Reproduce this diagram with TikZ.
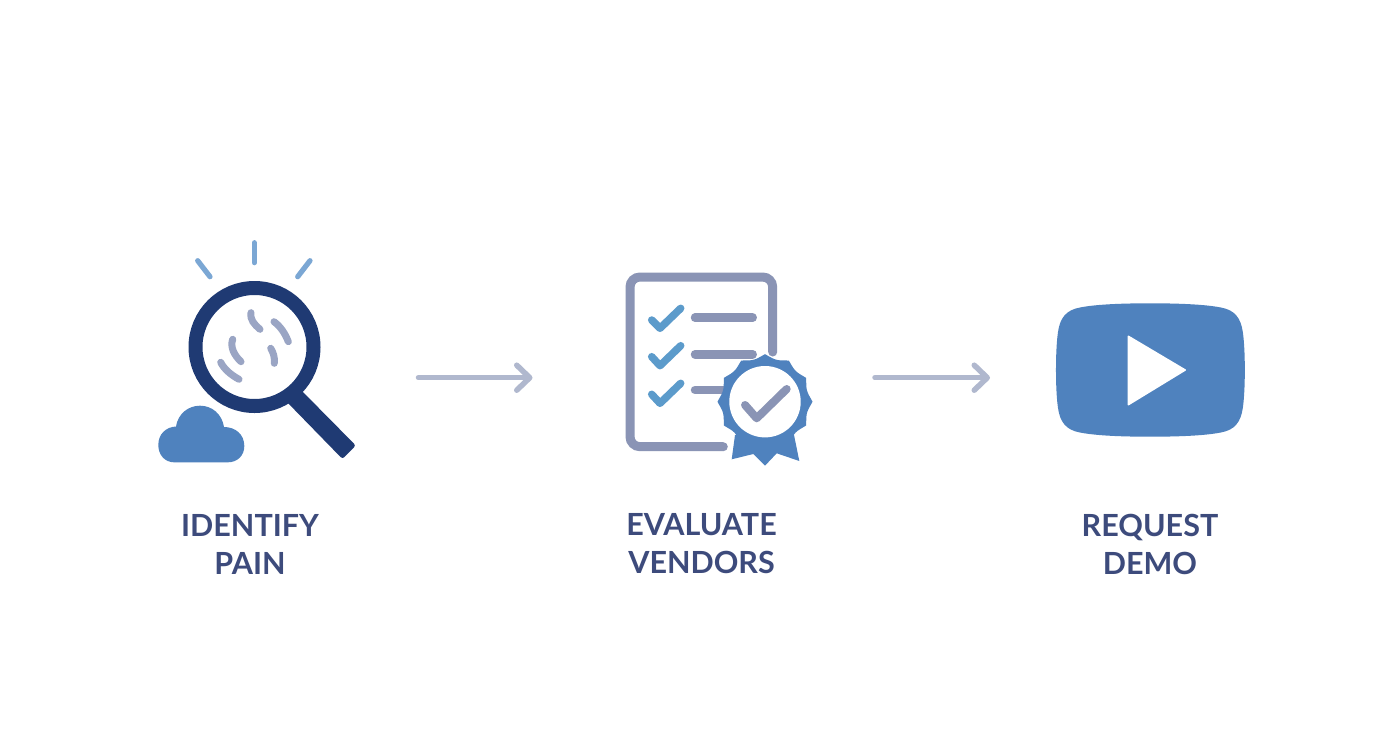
\documentclass[tikz,border=0pt]{standalone}
\usepackage{fontspec}
\setmainfont{Lato}
\usetikzlibrary{arrows.meta}
\definecolor{navy}{HTML}{1F3A73}
\definecolor{sky}{HTML}{7BA7D4}
\definecolor{smudge}{HTML}{9AA5C4}
\definecolor{midblue}{HTML}{4F82BE}
\definecolor{slate}{HTML}{8A94B5}
\definecolor{tick}{HTML}{5C9BCB}
\definecolor{flow}{HTML}{B0B8CE}
\definecolor{labelink}{HTML}{3D4B7C}
\tikzset{
  iconbox/.style={draw=none,fill=none,inner sep=0pt,outer sep=0pt,minimum height=10pt},
  ray/.style={draw=sky,line width=5.2pt,line cap=round},
  smudgeline/.style={draw=smudge,line width=7pt,line cap=round},
  docline/.style={draw=slate,line width=8.5pt,line cap=round},
  tickmark/.style={draw=tick,line width=7.5pt,line cap=round,line join=round},
  flowarrow/.style={draw=flow,line width=5.5pt,line cap=round,-{Straight Barb[length=13pt,width=25pt,line cap=round,round]}},
  caption/.style={text=labelink,font=\fontsize{30.5}{38}\selectfont\bfseries,align=center,inner sep=0pt}
}
\begin{document}
\begin{tikzpicture}[x=1pt,y=-1pt]
\useasboundingbox (0,0) rectangle (1392,752);
\fill[white] (0,0) rectangle (1392,752);
% anchors for the connectors
\node[iconbox,minimum width=329pt] (pain) at (254,377.7) {};
\node[iconbox,minimum width=342.5pt] (vendors) at (703.75,377.7) {};
\node[iconbox,minimum width=320pt] (demo) at (1150,377.7) {};
% magnifier
\draw[ray] (254.3,242.7) -- (254.3,262.7);
\draw[ray] (197.7,260.7) -- (210,276.7);
\draw[ray] (310,260.7) -- (297.7,276.7);
\fill[navy,rounded corners=2.5pt] (355.8,445.5) -- (342.5,459) -- (285,400) -- (298,387) -- cycle;
\draw[navy,line width=14pt,fill=white] (254.5,347) circle (59pt);
\draw[smudgeline] (251,312.7) .. controls (250,320) and (254,324) .. (260,329.3);
\draw[smudgeline] (274,321.7) .. controls (280,326) and (285,333) .. (288.3,341.7);
\draw[smudgeline] (232.7,339.3) .. controls (230,347) and (234,355) .. (241,361.7);
\draw[smudgeline] (270.7,348.3) .. controls (273,352) and (275,357) .. (274.3,363.3);
\draw[smudgeline] (220.7,362.3) .. controls (224,369) and (231,375) .. (239,379.3);
% cloud
\fill[midblue] (158.3,445) .. controls (158.3,434) and (166,427) .. (176,426.5)
  .. controls (178,414) and (188,405.7) .. (200,405.7)
  .. controls (212,405.7) and (222,414) .. (224,427)
  .. controls (235,427) and (244.3,434) .. (244.3,446)
  .. controls (244.3,456) and (237,462.3) .. (228,462.3)
  -- (174,462.3) .. controls (165,462.3) and (158.3,455) .. (158.3,445) -- cycle;
% document
\draw[draw=slate,line width=9pt,line cap=round,rounded corners=10pt]
  (772.7,352) -- (772.7,277) -- (630,277) -- (630,446.7) -- (723.3,446.7);
\draw[docline] (695,317.7) -- (752.7,317.7);
\draw[docline] (695,354.3) -- (752.7,354.3);
\draw[docline] (695,390) -- (725,390);
\draw[tickmark] (651.7,320) -- (660,328.3) -- (680.7,308.3);
\draw[tickmark] (651.7,356.7) -- (660,365.7) -- (680.7,345.7);
\draw[tickmark] (651.7,394.3) -- (660,403.3) -- (680.7,383.3);
% badge
\fill[midblue] (735,435) -- (731.7,459.3) -- (753.3,454) -- (765,465.7) -- (776.7,453.3) -- (799.3,461) -- (793,430) -- cycle;
\fill[midblue] plot[domain=0:360,samples=241,smooth] ({765+(43.5+4*(1-abs(sin(6*\x))))*cos(\x)},{401.7+(43.5+4*(1-abs(sin(6*\x))))*sin(\x)}) -- cycle;
\fill[white] (765,401.7) circle (35.7pt);
\draw[draw=slate,line width=8pt,line cap=round,line join=round] (745,405) -- (756.7,418.3) -- (786.7,389);
% play button
\fill[midblue] (1150,303.3) .. controls (1120,303.3) and (1095,304.5) .. (1080,307.5)
  .. controls (1066,310) and (1060,318) .. (1058,332)
  .. controls (1055.3,350) and (1055.3,390) .. (1058,408)
  .. controls (1060,422) and (1066,430) .. (1080,432.5)
  .. controls (1095,435.5) and (1120,436.7) .. (1150,436.7)
  .. controls (1180,436.7) and (1205.8,435.5) .. (1220.8,432.5)
  .. controls (1234.8,430) and (1240.8,422) .. (1242.8,408)
  .. controls (1245.5,390) and (1245.5,350) .. (1242.8,332)
  .. controls (1240.8,318) and (1234.8,310) .. (1220.8,307.5)
  .. controls (1205.8,304.5) and (1180,303.3) .. (1150,303.3) -- cycle;
\fill[white,rounded corners=1pt] (1127.7,335) -- (1186.7,370) -- (1127.7,406) -- cycle;
% connectors
\draw[flowarrow] (pain.east) -- (vendors.west);
\draw[flowarrow] (vendors.east) -- (demo.west);
% captions
\node[caption] (capa) at (250,544) {IDENTIFY\\PAIN};
\node[caption] (capb) at (701.5,544) {EVALUATE\\VENDORS};
\node[caption] (capc) at (1150,544) {REQUEST\\DEMO};
\end{tikzpicture}
\end{document}
